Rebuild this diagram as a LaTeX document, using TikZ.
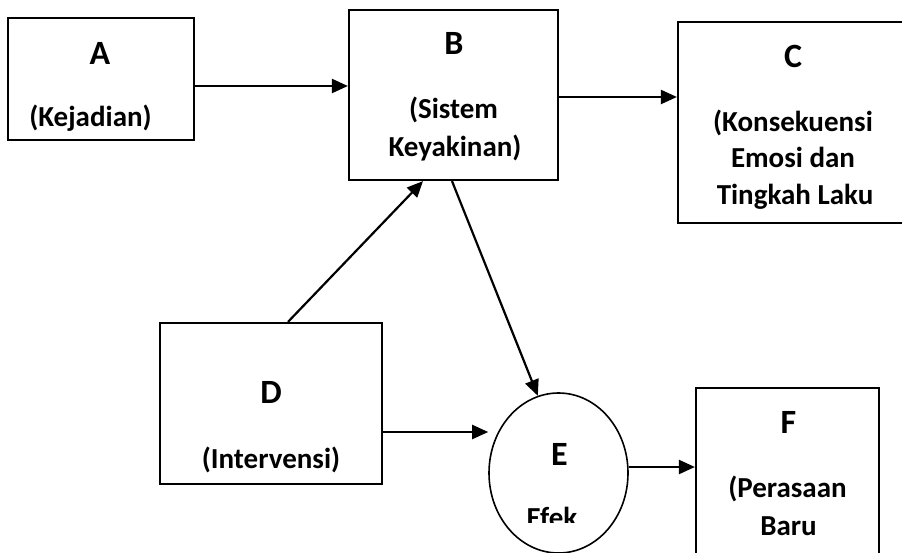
\documentclass[tikz,border=0pt]{standalone}
\usepackage{fontspec}
\setmainfont{Carlito}
\usetikzlibrary{arrows.meta,shapes.geometric}

\begin{document}
\begin{tikzpicture}[x=1pt, y=-1pt,
  box/.style={draw, rectangle, line width=2.2pt, inner sep=0pt},
  txt/.style={anchor=base, inner sep=0pt, font=\fontsize{29}{36}\selectfont\bfseries},
  letter/.style={anchor=base, inner sep=0pt, font=\fontsize{34}{36}\selectfont\bfseries},
  arr/.style={-{Triangle[length=16pt,width=14pt]}, line width=2.2pt}]
\useasboundingbox (0,0) rectangle (902,553);
\clip (0,0) rectangle (902,553);

% boxes
\node[box, minimum width=186pt, minimum height=122pt] (A) at (101,79) {};
\node[box, minimum width=209pt, minimum height=170pt] (B) at (453.5,95) {};
\node[box, minimum width=232pt, minimum height=201pt] (C) at (794,122.5) {};
\node[box, minimum width=222pt, minimum height=161pt] (D) at (271,403.5) {};
\node[draw, ellipse, line width=1.6pt, inner sep=0pt, minimum width=139pt, minimum height=160pt] (E) at (558.5,473) {};
\node[box, minimum width=183pt, minimum height=182pt] (F) at (787.5,479) {};

% texts
\node[letter] (Aname) at (100,65) {A};
\node[txt] (Atext) at (90.5,127) {(Kejadian)};
\node[letter] (Bname) at (454,55) {B};
\node[txt] (Btext1) at (453.5,119) {(Sistem};
\node[txt] (Btext2) at (455,157) {Keyakinan)};
\node[letter] (Cname) at (793,68) {C};
\node[txt] (Ctext1) at (793,132) {(Konsekuensi};
\node[txt] (Ctext2) at (793,168) {Emosi dan};
\node[txt] (Ctext3) at (795,205) {Tingkah Laku};
\node[letter] (Dname) at (271,403) {D};
\node[txt] (Dtext) at (271,468) {(Intervensi)};
\node[letter] (Ename) at (559.5,465) {E};
\begin{scope}
  \clip (490,495) rectangle (630,522);
  \node[txt] (Etext) at (552,527) {Efek};
\end{scope}
\node[letter] (Fname) at (788.5,433) {F};
\node[txt] (Ftext1) at (787.5,497) {(Perasaan};
\node[txt] (Ftext2) at (788.5,535) {Baru};

% arrows
\draw[arr] ([yshift=-7pt]A.east) -- ([yshift=-7pt]A.east -| B.west);
\draw[arr] ([yshift=-2pt]B.east) -- ([yshift=-2pt]B.east -| C.west);
\draw[arr] ([xshift=17pt]D.north) -- ([xshift=-30.5pt]B.south);
\draw[arr] ([xshift=-1.5pt]B.south) -- (E.105);
\draw[arr] ([yshift=-28.5pt]D.east) -- ([yshift=-28.5pt]D.east -| E.west);
\draw[arr] ([yshift=6pt]E.east) -- ([yshift=6pt]E.east -| F.west);
\end{tikzpicture}
\end{document}
